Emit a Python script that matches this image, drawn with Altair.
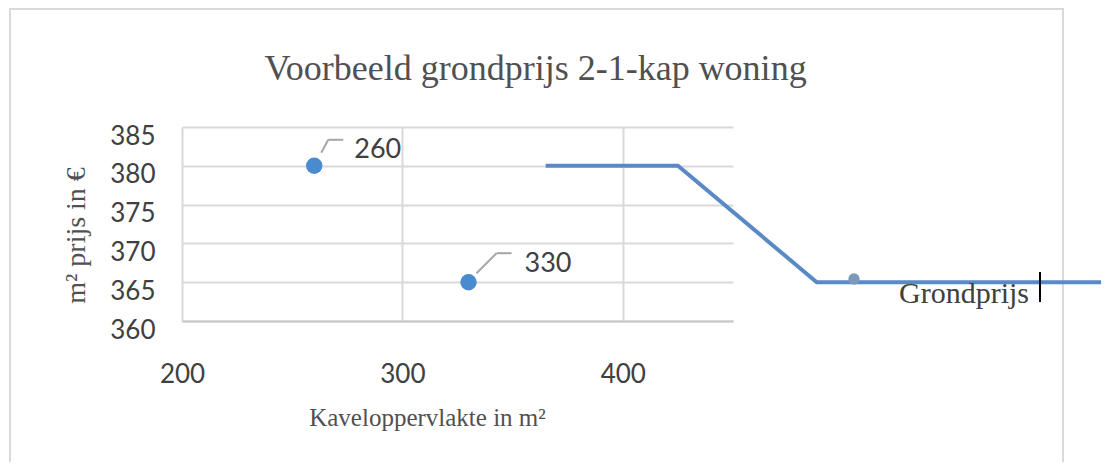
import altair as alt
import pandas as pd

# ---- data ----
point_x = [260, 330]
point_y = [380, 365]
point_labels = ["260", "330"]

line_x = [365, 425, 488, 617]
line_y = [380, 380, 365, 365]
series_name = "Grondprijs"

x_ticks = [200, 300, 400]
y_ticks = [360, 365, 370, 375, 380, 385]
x_domain = [200, 450]
y_domain = [360, 385]

title_text = "Voorbeeld grondprijs 2-1-kap woning"
x_title = "Kaveloppervlakte in m²"
y_title = "m² prijs in €"

# ---- tables ----
pts = pd.DataFrame({"x": point_x, "y": point_y, "label": point_labels})
line_df = pd.DataFrame({"x": line_x, "y": line_y,
                        "serie": [series_name] * len(line_x),
                        "order": list(range(len(line_x)))})
one = pd.DataFrame({"a": [0]})

W, H = 551, 194
LINE_COLOR = "#5a8ac6"
POINT_COLOR = "#4a8bcf"
GRID = "#d9d9d9"
TXT = "#404040"
SERIF = "Liberation Serif"
SANS = "Lato"

xscale = alt.Scale(domain=x_domain, nice=False, zero=False)
yscale = alt.Scale(domain=y_domain, nice=False, zero=False)

x_axis = alt.Axis(values=x_ticks, tickCount=len(x_ticks), title=x_title, grid=True,
                  gridColor=GRID, gridWidth=2, labelFlush=False, labelOverlap=False,
                  domainColor="#c8c8c8", domainWidth=2, ticks=False,
                  labelFont=SANS, labelFontSize=26, labelColor=TXT, labelPadding=40,
                  titleFont=SERIF, titleFontSize=25, titleFontWeight="normal", titleColor="#505050",
                  titleX=245, titleY=104, titleBaseline="alphabetic", titleAlign="center")
y_axis = alt.Axis(values=y_ticks, tickCount=len(y_ticks), title=y_title, grid=True,
                  gridColor=GRID, gridWidth=2, labelFlush=False, labelOverlap=False,
                  domain=False, ticks=False,
                  labelFont=SANS, labelFontSize=26, labelColor=TXT, labelPadding=27, labelOffset=9,
                  titleFont=SERIF, titleFontSize=28, titleFontWeight="normal", titleColor="#505050",
                  titleX=-106, titleY=108, titleAngle=270, titleBaseline="middle", titleAlign="center")

X = alt.X("x:Q", scale=xscale, axis=x_axis)
Y = alt.Y("y:Q", scale=yscale, axis=y_axis)
Xp = alt.X("x:Q", scale=xscale)
Yp = alt.Y("y:Q", scale=yscale)

border = alt.Chart(one).mark_rect(fillOpacity=0, stroke=GRID, strokeWidth=2, clip=False).encode(
    x=alt.value(-172), x2=alt.value(881), y=alt.value(-118), y2=alt.value(340))

line = alt.Chart(line_df).mark_line(strokeWidth=4, clip=False).encode(
    x=X, y=Y,
    color=alt.Color("serie:N", scale=alt.Scale(range=[LINE_COLOR]),
                    legend=alt.Legend(title=None, orient="none", legendX=657, legendY=137,
                                      symbolType="circle", symbolSize=130,
                                      symbolFillColor="#7d98bb", symbolStrokeColor="#7d98bb",
                                      symbolStrokeWidth=0,
                                      labelFont=SERIF, labelFontSize=30, labelColor=TXT,
                                      labelOffset=30, labelBaseline="top")),
    order="order:O")

points = alt.Chart(pts).mark_circle(size=270, color=POINT_COLOR, opacity=1).encode(x=Xp, y=Yp)


def label_layers(lbl, d1, d2, d3, tdx, tdy):
    src = alt.Chart(pts).transform_filter(alt.datum.label == lbl)
    diag = src.mark_rule(color="#a6a6a6", strokeWidth=2, xOffset=d1[0], yOffset=d1[1],
                         x2Offset=d2[0], y2Offset=d2[1]).encode(
        x=Xp, y=Yp, x2="x:Q", y2="y:Q")
    horiz = src.mark_rule(color="#a6a6a6", strokeWidth=2, xOffset=d2[0], yOffset=d2[1],
                          x2Offset=d3[0], y2Offset=d3[1]).encode(
        x=Xp, y=Yp, x2="x:Q", y2="y:Q")
    txt = src.mark_text(align="left", baseline="middle", dx=tdx, dy=tdy, font=SANS,
                        fontSize=27, color=TXT).encode(x=Xp, y=Yp, text="label:N")
    return [diag, horiz, txt]


labels = label_layers("260", (7, -13), (14, -26), (29, -26), 40, -16) + \
         label_layers("330", (8, -9), (28, -29), (43, -29), 56, -18)

cursor = alt.Chart(one).mark_rule(color="black", strokeWidth=2, clip=False).encode(
    x=alt.value(858), y=alt.value(145), y2=alt.value(175))

chart = alt.layer(border, line, points, *labels, cursor).properties(
    width=W, height=H,
    title=alt.TitleParams(title_text, font=SERIF, fontSize=36, fontWeight="normal",
                          color="#505050", anchor="middle", frame="group", dx=78, dy=100,
                          offset=20),
    autosize=alt.AutoSizeParams(type="none"),
    padding={"left": 174, "top": 119, "right": 371, "bottom": 141},
    background="white",
).configure_view(strokeWidth=0)

chart.save("out.html", embed_options={"renderer": "svg", "actions": False})
